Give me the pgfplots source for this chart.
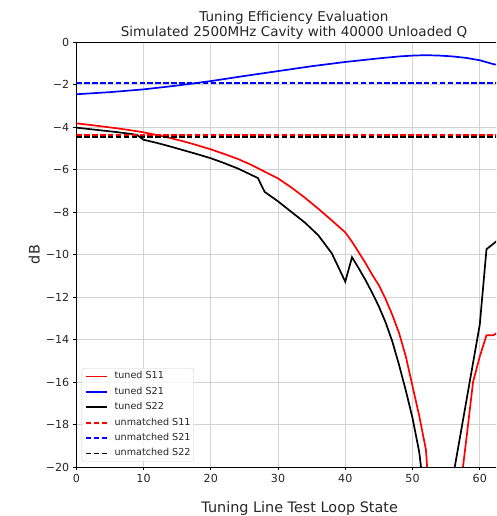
\documentclass[border=0pt]{standalone}
\usepackage{fontspec}
\setmainfont{DejaVu Sans}
\usepackage{pgfplots}
\pgfplotsset{compat=1.18}
\definecolor{gridgray}{HTML}{D3D3D3}
\definecolor{txt}{HTML}{262626}

\begin{document}
\begin{tikzpicture}
% the reference is cut off on the right, so crop the page the same way
\path[use as bounding box] (-76.3pt,-49pt) rectangle (419.7pt,467pt);
\clip (-76.3pt,-49pt) rectangle (419.7pt,467pt);
\begin{axis}[
  at={(0pt,0pt)}, anchor=south west,
  scale only axis, width=437.1pt, height=425pt,
  xmin=0, xmax=65, ymin=-20, ymax=0,
  xtick={0,10,...,60}, ytick={-20,-18,...,0},
  yticklabels={−20,−18,−16,−14,−12,−10,−8,−6,−4,−2,0},
  xtick pos=bottom, ytick pos=left,
  tick align=outside, major tick length=3.5pt,
  tick style={black, line width=0.8pt},
  axis line style={black, line width=0.8pt},
  grid=major, grid style={gridgray, line width=0.8pt},
  /pgf/number format/assume math mode=true,
  ticklabel style={font=\fontsize{11.1}{13}\selectfont, text=txt},
  title={Tuning Efficiency Evaluation\\Simulated 2500MHz Cavity with 40000 Unloaded Q},
  title style={at={(axis description cs:0.498,1)}, anchor=south, align=center,
    inner sep=0pt, yshift=-3.5pt, font=\fontsize{13.5}{15}\selectfont, text=txt},
  xlabel={Tuning Line Test Loop State},
  ylabel={dB},
  every axis x label/.style={at={(axis description cs:0.511,-0.1064)}, anchor=base,
    font=\fontsize{14.4}{16}\selectfont, text=txt},
  every axis y label/.style={at={(axis description cs:-0.0961,0.5)}, rotate=90,
    anchor=center, font=\fontsize{14.4}{16}\selectfont, text=txt},
  legend cell align=left,
  legend image code/.code={\draw[line width=1.7pt, #1] (0pt,0pt) -- (21pt,0pt);},
  legend style={at={(axis description cs:0.0124,0.0125)}, anchor=south west,
    draw=black!20, rounded corners=2pt, fill=white, fill opacity=0.8, text opacity=1,
    font=\fontsize{9.6}{11}\selectfont, text=txt, inner sep=3pt,
    row sep=5.4pt, column sep=7pt,
    nodes={inner sep=0pt, text height=0.75em, text depth=0.25em}},
  every axis plot/.append style={line width=1.7pt},
]
% tuned S11
\addplot[red] coordinates {
 (0,-3.83) (2,-3.9) (4,-3.98) (6,-4.06) (8,-4.15) (10,-4.25) (12,-4.38) (14,-4.52)
 (16,-4.68) (18,-4.86) (20,-5.05) (22,-5.27) (24,-5.5) (26,-5.78) (28,-6.1) (30,-6.42)
 (32,-6.85) (34,-7.33) (36,-7.85) (38,-8.4) (40,-8.96) (41,-9.4) (42,-9.9) (43,-10.4)
 (44,-10.95) (45,-11.45) (46,-12.1) (47,-12.85) (48,-13.7) (49,-14.8) (50,-16.2)
 (51,-17.6) (52,-19.2) (53,-24) (54,-30) (55,-35) (56,-28) (57,-21.3) (58,-18.7)
 (59,-16.0) (60,-14.8) (61,-13.8) (62,-13.8) (63,-13.6) (64,-13.5) (65,-13.4)};
% tuned S21
\addplot[blue] coordinates {
 (0,-2.46) (5,-2.36) (10,-2.23) (15,-2.05) (20,-1.84) (25,-1.6) (30,-1.37) (35,-1.14)
 (40,-0.94) (45,-0.77) (48,-0.68) (50,-0.64) (52,-0.62) (54,-0.64) (56,-0.68)
 (58,-0.75) (60,-0.86) (61,-0.95) (62,-1.04) (63,-1.1) (64,-1.14) (65,-1.17)};
% tuned S22
\addplot[black] coordinates {
 (0,-4.03) (2,-4.1) (4,-4.17) (6,-4.24) (8,-4.32) (9,-4.37) (10,-4.6) (12,-4.75)
 (14,-4.92) (16,-5.1) (18,-5.28) (20,-5.47) (22,-5.7) (24,-5.95) (26,-6.25) (27,-6.4)
 (28,-7.05) (30,-7.5) (32,-8.0) (34,-8.5) (36,-9.1) (38,-9.95) (40,-11.28) (41,-10.13)
 (42,-10.65) (43,-11.2) (44,-11.8) (45,-12.45) (46,-13.2) (47,-14.1) (48,-15.2)
 (49,-16.4) (50,-17.7) (51,-19.3) (52,-22) (53,-28) (54,-35) (55,-30) (56,-20.5)
 (57,-18.7) (58,-16.9) (59,-15.1) (60,-13.3) (61,-9.75) (62,-9.5) (63,-9.25)
 (64,-9.05) (65,-8.9)};
% unmatched
\addplot[red, dash pattern=on 5.5pt off 2.4pt] coordinates {(0,-4.37) (65,-4.37)};
\addplot[blue, dash pattern=on 5.5pt off 2.4pt] coordinates {(0,-1.93) (65,-1.93)};
\addplot[black, dash pattern=on 5.5pt off 2.4pt] coordinates {(0,-4.46) (65,-4.46)};
\legend{tuned S11, tuned S21, tuned S22, unmatched S11, unmatched S21, unmatched S22}
\end{axis}
\end{tikzpicture}
\end{document}
